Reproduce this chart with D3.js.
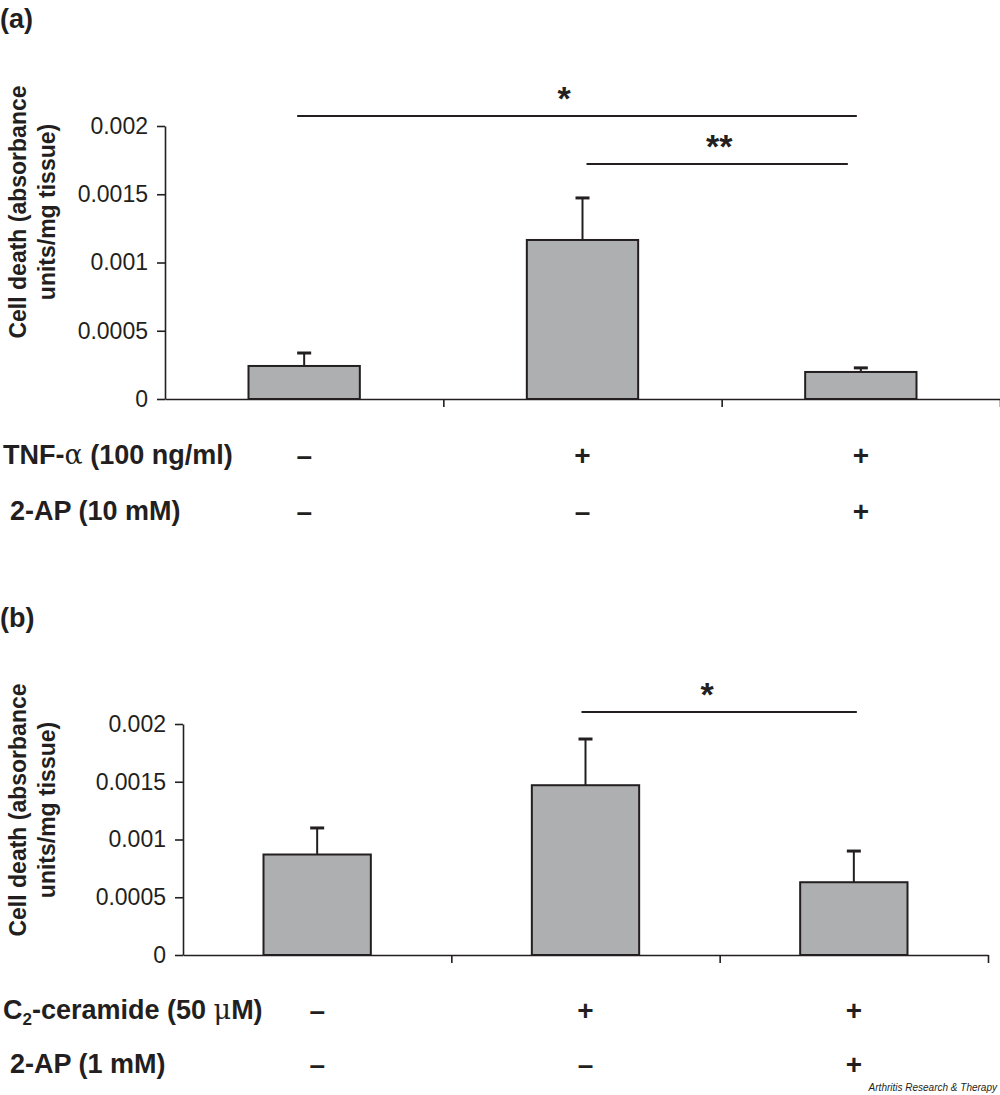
<!DOCTYPE html>
<html>
<head>
<meta charset="utf-8">
<script src="https://cdn.jsdelivr.net/npm/d3@7"></script>
<style>
  html, body { margin: 0; padding: 0; background: #fff; }
  svg { display: block; font-family: "Liberation Sans", Arial, Helvetica, sans-serif; }
</style>
</head>
<body>
<svg id="chart" width="1000" height="1095"></svg>
<script>
// ---------- DATA ----------
const categories = ["c1", "c2", "c3"];
const tickValues = [0, 0.0005, 0.001, 0.0015, 0.002];
const tickLabels = ["0", "0.0005", "0.001", "0.0015", "0.002"];

const meansA = [0.000242, 0.001165, 0.000198];
const errorsA = [0.000095, 0.000308, 0.000030];
const meansB = [0.00087, 0.00147, 0.00063];
const errorsB = [0.00023, 0.00040, 0.00027];

const treatmentA1 = ["–", "+", "+"];
const treatmentA2 = ["–", "–", "+"];
const treatmentB1 = ["–", "+", "+"];
const treatmentB2 = ["–", "–", "+"];

const sigA = [
  { from: 0, to: 2, label: "*" , level: 0},
  { from: 1, to: 2, label: "**", level: 1}
];
const sigB = [
  { from: 1, to: 2, label: "*", level: 0 }
];

const yTitle1 = "Cell death (absorbance";
const yTitle2 = "units/mg tissue)";

// ---------- STYLE ----------
const ink = "#231f20";
const barFill = "#aeafb0";

const svg = d3.select("#chart");

function panel(cfg) {
  const g = svg.append("g");
  const x = d3.scaleBand().domain(categories)
    .range([cfg.left, cfg.right]).paddingInner(0.6).paddingOuter(0.3);
  const bounds = d3.scaleLinear().domain([0, categories.length]).range([cfg.left, cfg.right]);
  const y = d3.scaleLinear().domain([0, 0.002]).range([cfg.bottom, cfg.top]);

  const yAxis = g.append("g").attr("transform", `translate(${cfg.left},0)`)
    .call(d3.axisLeft(y).tickValues(tickValues)
      .tickFormat((d, i) => tickLabels[i]).tickSize(8).tickSizeOuter(0).tickPadding(9));
  yAxis.select(".domain").attr("stroke", ink).attr("stroke-width", 1.6);
  yAxis.selectAll(".tick line").attr("stroke", ink).attr("stroke-width", 1.6);
  yAxis.selectAll(".tick text").attr("fill", ink)
    .style("font-size", "23px").style("font-family", "'Liberation Sans', Arial, sans-serif");

  const xAxis = g.append("g").attr("transform", `translate(0,${cfg.bottom})`)
    .call(d3.axisBottom(bounds).tickValues(d3.range(1, categories.length + 1))
      .tickFormat("").tickSize(8).tickSizeOuter(0));
  xAxis.select(".domain").attr("stroke", ink).attr("stroke-width", 1.6);
  xAxis.selectAll(".tick line").attr("stroke", ink).attr("stroke-width", 1.6);

  const capW = 14;
  const eb = g.append("g");
  eb.selectAll("line.v").data(cfg.means).join("line")
    .attr("x1", (d, i) => x(categories[i]) + x.bandwidth() / 2)
    .attr("x2", (d, i) => x(categories[i]) + x.bandwidth() / 2)
    .attr("y1", d => y(d))
    .attr("y2", (d, i) => y(d + cfg.errors[i]))
    .attr("stroke", ink).attr("stroke-width", 2);
  eb.selectAll("line.c").data(cfg.means).join("line")
    .attr("x1", (d, i) => x(categories[i]) + x.bandwidth() / 2 - capW / 2)
    .attr("x2", (d, i) => x(categories[i]) + x.bandwidth() / 2 + capW / 2)
    .attr("y1", (d, i) => y(d + cfg.errors[i]))
    .attr("y2", (d, i) => y(d + cfg.errors[i]))
    .attr("stroke", ink).attr("stroke-width", 3);

  g.append("g").selectAll("rect").data(cfg.means).join("rect")
    .attr("x", (d, i) => x(categories[i]))
    .attr("width", x.bandwidth())
    .attr("y", d => y(d))
    .attr("height", d => y(0) - y(d))
    .attr("fill", barFill).attr("stroke", ink).attr("stroke-width", 2);

  const sg = g.append("g");
  cfg.sig.forEach(s => {
    const x1 = x(categories[s.from]) + x.bandwidth() / 2 + cfg.sigInset[s.level][0];
    const x2 = x(categories[s.to]) + x.bandwidth() / 2 + cfg.sigInset[s.level][1];
    const ly = cfg.sigY[s.level];
    sg.append("line").attr("x1", x1).attr("x2", x2).attr("y1", ly).attr("y2", ly)
      .attr("stroke", ink).attr("stroke-width", 2);
    sg.append("text").attr("x", (x1 + x2) / 2 + cfg.starShift[s.level]).attr("y", ly - 6)
      .attr("text-anchor", "middle").attr("fill", ink)
      .style("font-size", "34px").style("font-weight", "bold").text(s.label);
  });

  const tx = g.append("text").attr("transform", `translate(${cfg.titleX},${cfg.titleY}) rotate(-90)`)
    .attr("text-anchor", "middle").attr("fill", ink)
    .style("font-size", "23px").style("font-weight", "bold");
  tx.append("tspan").attr("x", 0).attr("dy", "0.35em").text(yTitle1);
  tx.append("tspan").attr("x", 0).attr("dy", "1.25em").text(yTitle2);

  g.append("text").attr("x", 0).attr("y", cfg.letterY).attr("fill", ink)
    .style("font-size", "27px").style("font-weight", "bold").text(cfg.letter);

  cfg.rows.forEach((row, r) => {
    const ry = cfg.rowY[r];
    const lab = g.append("text").attr("x", row.labelX).attr("y", ry).attr("dy", "0.35em")
      .attr("fill", ink).style("font-size", "27px").style("font-weight", "bold");
    row.label(lab);
    g.append("g").selectAll("text").data(row.signs).join("text")
      .attr("x", (d, i) => x(categories[i]) + x.bandwidth() / 2)
      .attr("y", ry).attr("dy", "0.35em").attr("text-anchor", "middle")
      .attr("fill", ink).style("font-size", "28px").style("font-weight", "bold")
      .text(d => d);
  });
}

panel({
  left: 165, right: 1000, top: 126, bottom: 399,
  means: meansA, errors: errorsA, sig: sigA,
  sigY: [116, 164], sigInset: [[-7, -4], [4, -13]], starShift: [-13, 2],
  titleX: 18, titleY: 212, letter: "(a)", letterY: 28,
  rowY: [455, 511],
  rows: [
    { signs: treatmentA1, labelX: 3, label: t => {
        t.append("tspan").text("TNF-");
        t.append("tspan").style("font-weight", "normal").style("font-family", "'DejaVu Serif', serif").text("α");
        t.append("tspan").text(" (100 ng/ml)");
      } },
    { signs: treatmentA2, labelX: 10, label: t => t.text("2-AP (10 mM)") }
  ]
});

panel({
  left: 183, right: 988, top: 724, bottom: 955,
  means: meansB, errors: errorsB, sig: sigB,
  sigY: [712], sigInset: [[-4, 3]], starShift: [-12],
  titleX: 18, titleY: 810, letter: "(b)", letterY: 627,
  rowY: [1010, 1064],
  rows: [
    { signs: treatmentB1, labelX: 3, label: t => {
        t.append("tspan").text("C");
        t.append("tspan").attr("dy", "0.3em").style("font-size", "17px").text("2");
        t.append("tspan").attr("dy", "-0.2em").text("-ceramide (50 ");
        t.append("tspan").style("font-weight", "normal").style("font-family", "'DejaVu Serif', serif").text("μ");
        t.append("tspan").text("M)");
      } },
    { signs: treatmentB2, labelX: 10, label: t => t.text("2-AP (1 mM)") }
  ]
});

svg.append("text").attr("x", 997).attr("y", 1091).attr("text-anchor", "end")
  .attr("fill", ink).style("font-size", "10px").style("font-style", "italic")
  .text("Arthritis Research & Therapy");
</script>
</body>
</html>
